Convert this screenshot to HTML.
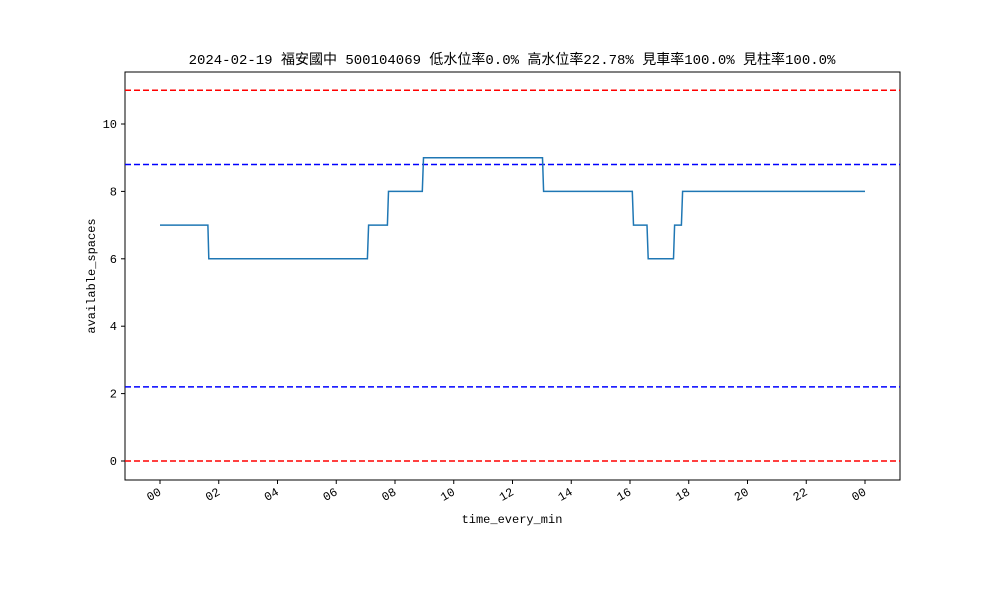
<!DOCTYPE html>
<html><head><meta charset="utf-8"><style>
body{margin:0;background:#fff;}
svg text{font-family:"Liberation Mono","Noto Sans CJK TC",monospace;fill:#000;}
</style></head><body>
<svg id="chart" width="1000" height="600" xmlns="http://www.w3.org/2000/svg"></svg>
<script>
const times = [0, 1.63, 1.66, 7.06, 7.1, 7.74, 7.78, 8.93, 8.97, 13.02, 13.06, 16.08, 16.12, 16.58, 16.62, 17.48, 17.52, 17.75, 17.79, 24];
const values = [7, 7, 6, 6, 7, 7, 8, 8, 9, 9, 8, 8, 7, 7, 6, 6, 7, 7, 8, 8];
const yTicks = [0, 2, 4, 6, 8, 10];
const xTickHours = [0, 2, 4, 6, 8, 10, 12, 14, 16, 18, 20, 22, 24];
const xTickLabels = ["00","02","04","06","08","10","12","14","16","18","20","22","00"];
const redLines = [0, 11];
const blueLines = [2.2, 8.8];

const L=125,R=900,T=72,B=480;
const X=h=>160+h*(705/24);
const Y=v=>461-v*33.7;
const svg=document.getElementById('chart');
const NS='http://www.w3.org/2000/svg';
function add(tag,attrs,text){const e=document.createElementNS(NS,tag);for(const k in attrs)e.setAttribute(k,attrs[k]);if(text!==undefined)e.textContent=text;svg.appendChild(e);return e;}

let e=add('rect',{x:L,y:T,width:R-L,height:B-T,fill:'none',stroke:'#000','stroke-width':1});



redLines.forEach(v=>{const l=add('line',{x1:L,x2:R,y1:Y(v),y2:Y(v),stroke:'#ff0000','stroke-width':1.5,'stroke-dasharray':'6,3'});

});
blueLines.forEach(v=>{const l=add('line',{x1:L,x2:R,y1:Y(v),y2:Y(v),stroke:'#0000ff','stroke-width':1.5,'stroke-dasharray':'6,3'});

});

const pts=times.map((t,i)=>X(t).toFixed(1)+','+Y(values[i]).toFixed(1)).join(' ');
e=add('polyline',{points:pts,fill:'none',stroke:'#1f77b4','stroke-width':1.5});



yTicks.forEach(v=>{add('line',{x1:L-4,x2:L,y1:Y(v),y2:Y(v),stroke:'#000'});
const t=add('text',{x:L-8,y:Y(v)+4,'text-anchor':'end','font-size':12},v);

});
xTickHours.forEach((h,i)=>{add('line',{x1:X(h),x2:X(h),y1:B,y2:B+4,stroke:'#000'});
const t=add('text',{x:X(h)+2,y:B+14,'text-anchor':'end','font-size':12,transform:`rotate(-30 ${X(h)+2} ${B+14})`},xTickLabels[i]);

});

e=add('text',{x:512,y:523,'text-anchor':'middle','font-size':12},'time_every_min');


e=add('text',{x:95,y:276,'text-anchor':'middle','font-size':12,transform:'rotate(-90 95 276)'},'available_spaces');


e=add('text',{x:512,y:64,'text-anchor':'middle','font-size':14},'2024-02-19 福安國中 500104069 低水位率0.0% 高水位率22.78% 見車率100.0% 見柱率100.0%');


</script>
</body></html>
